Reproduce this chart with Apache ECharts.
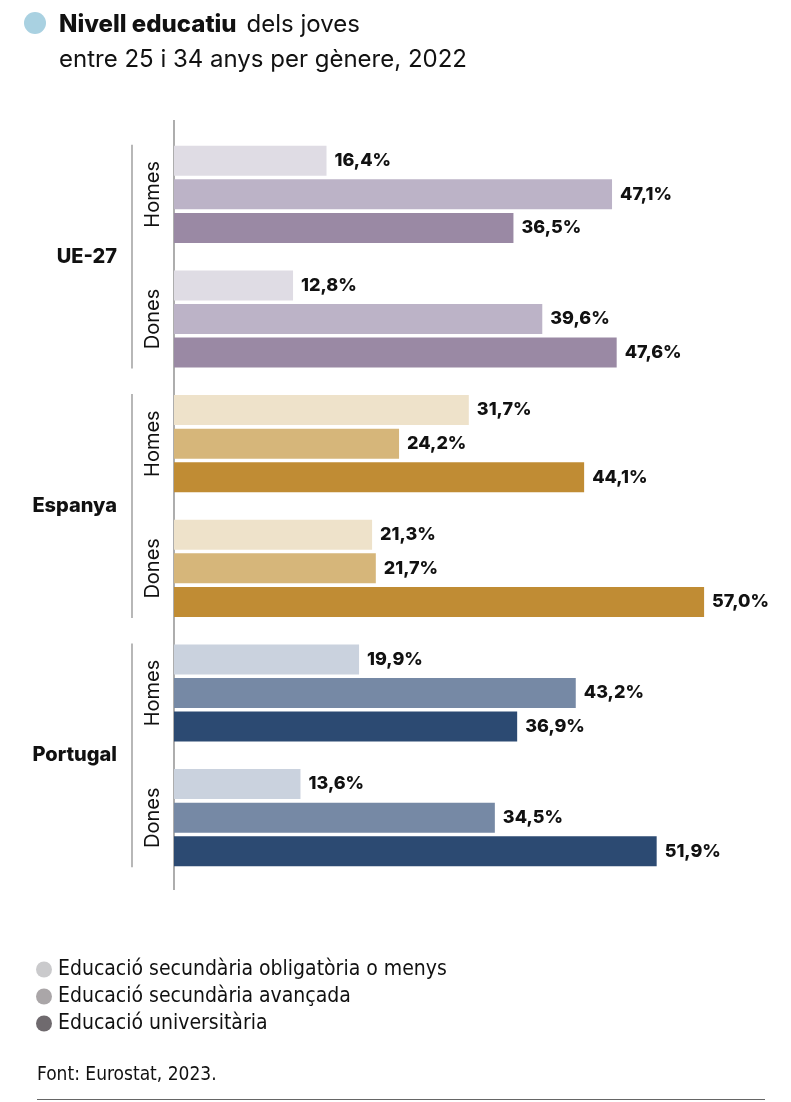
<!DOCTYPE html>
<html>
<head>
<meta charset="utf-8">
<script src="https://cdn.jsdelivr.net/npm/echarts@6/dist/echarts.min.js"></script>
<style>
  html, body { margin: 0; padding: 0; background: #fff; }
  #chart { width: 791px; height: 1102px; }
</style>
</head>
<body>
<div id="chart"></div>
<script>
// dades
const countries = ['UE-27', 'Espanya', 'Portugal'];
const groups = ['Homes', 'Dones', 'Homes', 'Dones', 'Homes', 'Dones'];
const groupCountry = [0, 0, 1, 1, 2, 2];
const levels = [
  'Educació secundària obligatòria o menys',
  'Educació secundària avançada',
  'Educació universitària'
];
const lowValues = [16.4, 12.8, 31.7, 21.3, 19.9, 13.6];
const midValues = [47.1, 39.6, 24.2, 21.7, 43.2, 34.5];
const uniValues = [36.5, 47.6, 44.1, 57.0, 36.9, 51.9];

// colors per país (clar, mitjà, fosc)
const countryColors = [
  ['#dfdce4', '#bcb3c7', '#9a89a4'],
  ['#eee2ca', '#d6b67a', '#c08c34'],
  ['#cad2de', '#7689a5', '#2c4a72']
];
const legendColors = ['#cacacc', '#aaa6a8', '#6f6a6e'];

const FONT = 'Inter, "Noto Sans", sans-serif';
const NARROW = '"Liberation Sans Narrow", "DejaVu Sans Condensed", "Liberation Sans", sans-serif';
const BAR_W = 30;

const chart = echarts.init(document.getElementById('chart'), null, { renderer: 'canvas' });

function makeSeries(values, level) {
  return {
    name: levels[level],
    type: 'bar',
    yAxisIndex: 0,
    barWidth: BAR_W,
    barGap: '12%',
    itemStyle: { color: legendColors[level] },
    data: values.map((v, i) => ({
      value: v,
      itemStyle: { color: countryColors[groupCountry[i]][level] }
    })),
    label: {
      show: true,
      position: 'right',
      distance: 8,
      color: '#111',
      fontFamily: FONT,
      fontWeight: 800,
      fontSize: 18,
      formatter: p => p.value.toFixed(1).replace('.', ',') + '%'
    },
    emphasis: { disabled: true }
  };
}

const option = {
  animation: false,
  backgroundColor: '#fff',
  title: {
    left: 54,
    top: 2,
    text: '{b|Nivell educatiu}  {r|dels joves}\n{r|entre 25 i 34 anys per gènere, 2022}',
    textStyle: {
      rich: {
        b: { fontFamily: FONT, fontWeight: 800, fontSize: 24, color: '#111', lineHeight: 35 },
        r: { fontFamily: FONT, fontWeight: 'normal', fontSize: 24, color: '#111', lineHeight: 35 }
      }
    }
  },
  legend: {
    orient: 'vertical',
    left: 31,
    top: 954,
    itemWidth: 16,
    itemHeight: 16,
    itemGap: 6,
    icon: 'circle',
    selectedMode: false,
    textStyle: { fontFamily: NARROW, fontSize: 21, color: '#111', padding: [0, 0, 0, 1] },
    data: levels.map((l, i) => ({ name: l, itemStyle: { color: legendColors[i] } }))
  },
  grid: { left: 174, right: 59, top: 132, bottom: 222, containLabel: false, outerBoundsMode: 'none' },
  xAxis: {
    type: 'value',
    min: 0,
    max: 60,
    show: false
  },
  yAxis: [
    {
      type: 'category',
      position: 'left',
      inverse: true,
      data: groups,
      axisLine: { show: false },
      axisTick: { show: false },
      axisLabel: {
        rotate: 90,
        margin: 11,
        fontFamily: FONT,
        fontSize: 20,
        color: '#111'
      }
    },
    {
      type: 'category',
      position: 'left',
      offset: 0,
      inverse: true,
      data: countries,
      axisLine: { show: false },
      axisTick: { show: false },
      axisLabel: {
        margin: 57,
        fontFamily: FONT,
        fontWeight: 800,
        fontSize: 20,
        color: '#111'
      }
    }
  ],
  series: [
    makeSeries(lowValues, 0),
    makeSeries(midValues, 1),
    makeSeries(uniValues, 2)
  ]
};

chart.setOption(option);

// línies decoratives: eix vertical, claus per país, filet inferior
const graphics = [];
const axisX = chart.convertToPixel({ xAxisIndex: 0 }, 0);
const topY = chart.convertToPixel({ yAxisIndex: 0 }, 0);
const band = chart.convertToPixel({ yAxisIndex: 0 }, 1) - topY;
graphics.push({
  type: 'line',
  shape: { x1: axisX, y1: topY - band / 2 - 12, x2: axisX, y2: topY + band * 5.5 + 10 },
  style: { stroke: '#777', lineWidth: 1.2 },
  silent: true
});
const half = BAR_W * 1.5 + BAR_W * 0.12 + 1;
countries.forEach((c, k) => {
  const yA = chart.convertToPixel({ yAxisIndex: 0 }, k * 2) - half;
  const yB = chart.convertToPixel({ yAxisIndex: 0 }, k * 2 + 1) + half;
  graphics.push({
    type: 'line',
    shape: { x1: 132, y1: yA, x2: 132, y2: yB },
    style: { stroke: '#888', lineWidth: 1.2 },
    silent: true
  });
});
graphics.push({
  type: 'circle',
  shape: { cx: 35, cy: 23, r: 11 },
  style: { fill: '#a9d1e1' },
  silent: true
});
graphics.push({
  type: 'text',
  left: 37,
  top: 1066,
  style: { text: 'Font: Eurostat, 2023.', fontFamily: NARROW, fontSize: 19, fill: '#111' },
  silent: true
});
graphics.push({
  type: 'line',
  shape: { x1: 37, y1: 1099.5, x2: 765, y2: 1099.5 },
  style: { stroke: '#666', lineWidth: 1 },
  silent: true
});
chart.setOption({ graphic: graphics });
</script>
</body>
</html>
